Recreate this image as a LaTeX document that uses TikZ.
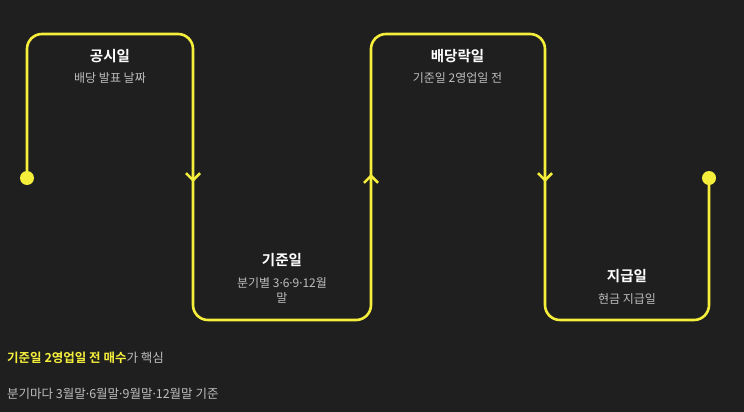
\documentclass[tikz,border=0pt]{standalone}
\usepackage{fontspec}
\setmainfont{Noto Sans CJK KR}[BoldFont={Noto Sans CJK KR Bold}]
\newfontfamily\dotfont{Noto Sans}
\newcommand{\mdot}{{\dotfont ·}}
\usepackage{xcolor}
\usetikzlibrary{arrows.meta}

\definecolor{bgdark}{HTML}{1F1F1F}
\definecolor{lineyellow}{HTML}{F5EF3C}
\definecolor{subgray}{HTML}{BDBDBD}

\tikzset{
    daytitle/.style={text=white, font=\fontsize{14.5}{16}\selectfont\bfseries},
    daysub/.style={text=subgray, font=\fontsize{12}{15}\selectfont, align=center},
    notetext/.style={anchor=west, inner sep=0pt, text=subgray, font=\fontsize{12.5}{14}\selectfont},
    timeline/.style={lineyellow, line width=2.6pt},
    chevron/.style={timeline, -{Straight Barb[length=7pt,width=14pt]}}
}

\begin{document}
\begin{tikzpicture}[x=1pt,y=-1pt]
        % Background
        \fill[bgdark] (0,0) rectangle (744,412);
        \useasboundingbox (0,0) rectangle (744,412);

        % Ends of the timeline
        \coordinate (start) at (27,178);
        \coordinate (end) at (709,178);

        % Timeline (up, down, up, down)
        \draw[timeline, rounded corners=15pt]
            (start) -- (27,34) -- (193,34) -- (193,320) -- (371,320)
            -- (371,34) -- (545,34) -- (545,320) -- (709,320) -- (end);

        % Direction marks
        \foreach \x/\ya/\yb in {193/120/182, 371/240/174, 545/120/182}
            \draw[chevron] (\x,\ya) -- (\x,\yb);

        % End dots
        \fill[lineyellow] (start) circle (7pt);
        \fill[lineyellow] (end) circle (7pt);

        % Labels
        \node[daytitle] (gongsi) at (110,56) {공시일};
        \node[daysub] (gongsi-sub) at (110,78) {배당 발표 날짜};

        \node[daytitle] (gijun) at (282,260) {기준일};
        \node[daysub] (gijun-sub) at (282,290.5) {분기별 3\mdot 6\mdot 9\mdot 12월\\말};

        \node[daytitle] (baedangrak) at (457.5,56) {배당락일};
        \node[daysub] (baedangrak-sub) at (457.5,78) {기준일 2영업일 전};

        \node[daytitle] (jigeup) at (627,276) {지급일};
        \node[daysub] (jigeup-sub) at (627,299) {현금 지급일};

        % Notes
        \node[notetext] (note1) at (7,358)
            {\textcolor{lineyellow}{\bfseries 기준일 2영업일 전 매수}가 핵심};
        \node[notetext] (note2) at (7,394)
            {분기마다 3월말\mdot 6월말\mdot 9월말\mdot 12월말 기준};
    \end{tikzpicture}
\end{document}
